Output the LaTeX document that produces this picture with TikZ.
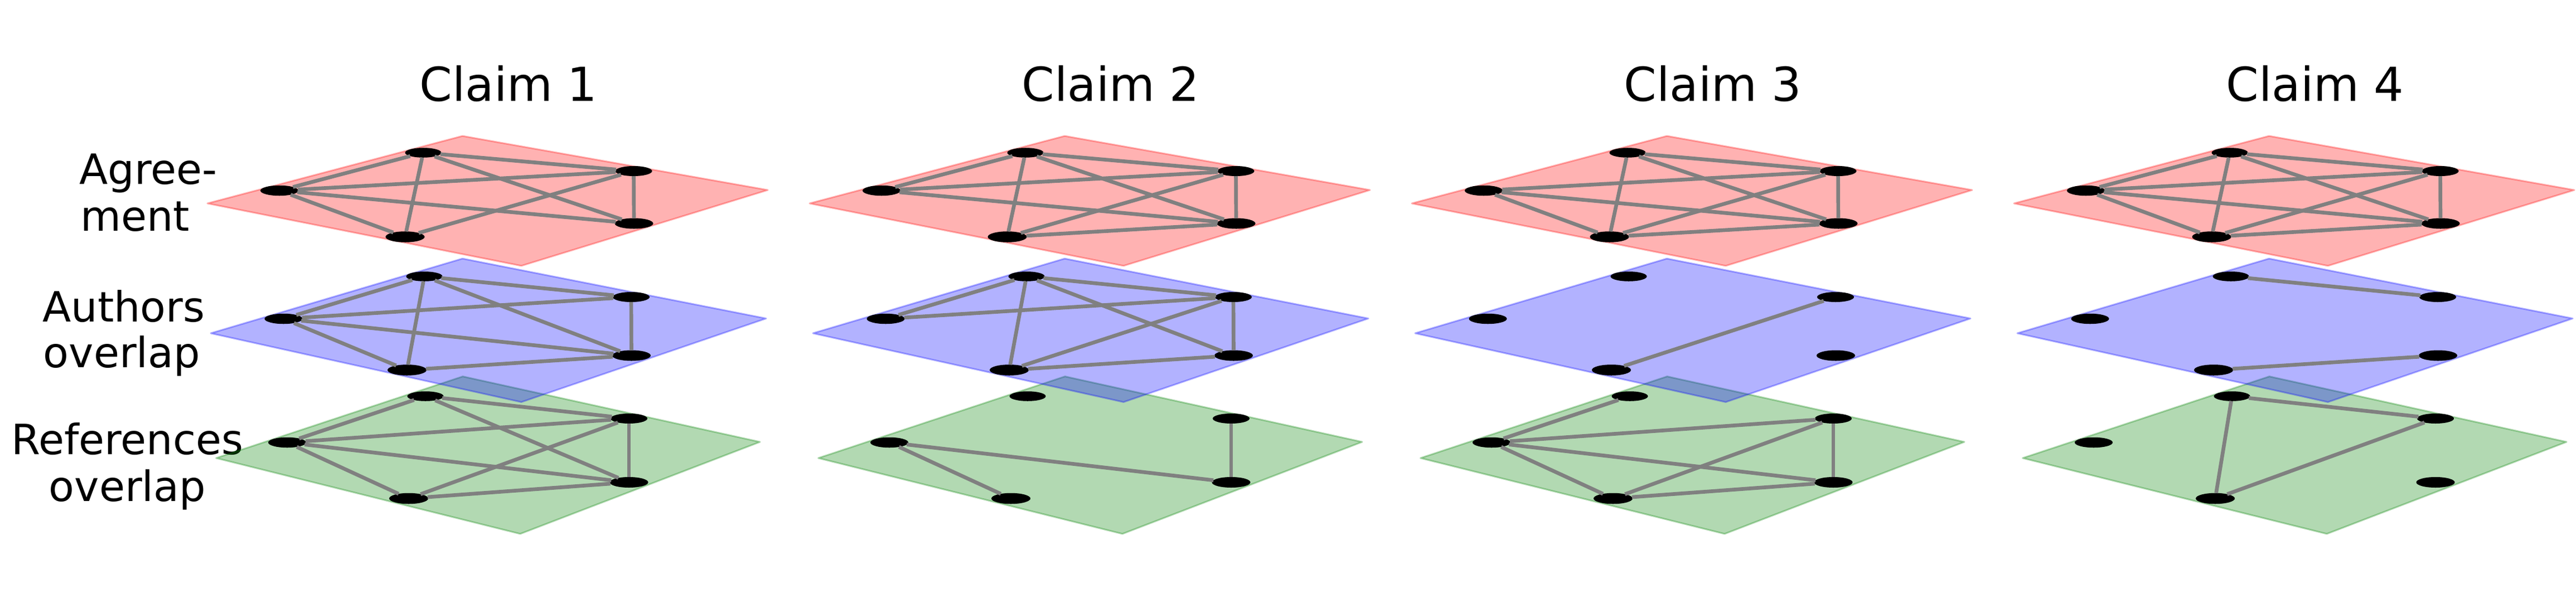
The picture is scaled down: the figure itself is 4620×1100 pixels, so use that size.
\documentclass[tikz,border=0pt]{standalone}
\usepackage{fontspec}
\setmainfont{DejaVu Sans}
\usetikzlibrary{shapes.geometric}
\tikzset{
  plane/.style={line width=0.85pt, line join=round, fill opacity=0.3, draw opacity=0.3},
  redplane/.style={plane, fill=red, draw=red},
  blueplane/.style={plane, fill=blue, draw=blue},
  greenplane/.style={plane, fill={rgb,255:red,0;green,128;blue,0}, draw={rgb,255:red,0;green,128;blue,0}},
  dotbase/.style={ellipse, fill=black, inner sep=0pt, outer sep=0pt},
  dotT/.style={dotbase, minimum width=6.5mm, minimum height=1.75mm},
  dotR/.style={dotbase, minimum width=6.6mm, minimum height=1.8mm},
  dotL/.style={dotbase, minimum width=6.8mm, minimum height=1.85mm},
  dotQ/.style={dotbase, minimum width=6.9mm, minimum height=1.9mm},
  dotB/.style={dotbase, minimum width=7.0mm, minimum height=1.95mm},
  link/.style={draw=gray, line width=1.9pt},
  claimtitle/.style={font=\fontsize{23.9}{28}\selectfont, anchor=base, inner sep=0pt},
  rowlabel/.style={font=\fontsize{21.3}{26}\selectfont, anchor=base, inner sep=0pt},
}
% #1 claim id, #2 x shift (px), #3 red edges, #4 blue edges, #5 green edges
\newcommand\drawclaim[5]{%
\begin{scope}[shift={(#2,0)}]
  % green layer
  \filldraw[greenplane] (387.6,822) -- (830,675.5) -- (1363,793) -- (933,958) -- cycle;
  \node[dotT] (c#1gT) at (763,711) {};
  \node[dotR] (c#1gR) at (1128,751) {};
  \node[dotL] (c#1gL) at (515,794) {};
  \node[dotQ] (c#1gQ) at (1128,865.5) {};
  \node[dotB] (c#1gB) at (733,894.5) {};
  \foreach \a/\b in {#5} \draw[link] (c#1g\a) -- (c#1g\b);
  % blue layer
  \filldraw[blueplane] (378,598) -- (829.5,464) -- (1374,571.5) -- (935,721.5) -- cycle;
  \node[dotT] (c#1bT) at (761,496) {};
  \node[dotR] (c#1bR) at (1132,533) {};
  \node[dotL] (c#1bL) at (508.5,572) {};
  \node[dotQ] (c#1bQ) at (1132.5,638) {};
  \node[dotB] (c#1bB) at (730,664) {};
  \foreach \a/\b in {#4} \draw[link] (c#1b\a) -- (c#1b\b);
  % red layer
  \filldraw[redplane] (372,365) -- (829.5,244) -- (1377,341) -- (935,477) -- cycle;
  \node[dotT] (c#1rT) at (759,274) {};
  \node[dotR] (c#1rR) at (1136.5,307) {};
  \node[dotL] (c#1rL) at (501,342) {};
  \node[dotQ] (c#1rQ) at (1137,401) {};
  \node[dotB] (c#1rB) at (726.5,425) {};
  \foreach \a/\b in {#3} \draw[link] (c#1r\a) -- (c#1r\b);
\end{scope}}
\begin{document}
\begin{tikzpicture}[x=0.01cm, y=-0.01cm]
  \useasboundingbox (0,0) rectangle (4620,1100);
  % row labels
  \node[rowlabel] (agA) at (266,330) {Agree-};
  \node[rowlabel] (agB) at (242,414) {ment};
  \node[rowlabel] (auA) at (222,577) {Authors};
  \node[rowlabel] (auB) at (218.5,659) {overlap};
  \node[rowlabel] (reA) at (228.5,815) {References};
  \node[rowlabel] (reB) at (228.5,899) {overlap};
  % titles
  \node[claimtitle] (t1) at (912,181) {Claim 1};
  \node[claimtitle] (t2) at (1992,181) {Claim 2};
  \node[claimtitle] (t3) at (3072,181) {Claim 3};
  \node[claimtitle] (t4) at (4152,181) {Claim 4};
  % claims
  \drawclaim{1}{0}
    {T/L,T/R,T/Q,T/B,L/R,L/Q,L/B,R/Q,R/B}
    {T/L,T/R,T/Q,T/B,L/R,L/Q,L/B,R/Q,B/Q}
    {T/L,T/R,T/Q,L/R,L/Q,L/B,R/Q,R/B,B/Q}
  \drawclaim{2}{1080}
    {T/L,T/R,T/Q,T/B,L/R,L/Q,R/Q,R/B,B/Q}
    {T/L,T/R,T/Q,T/B,L/R,R/Q,R/B,B/Q}
    {L/B,L/Q,R/Q}
  \drawclaim{3}{2160}
    {T/R,T/Q,T/B,L/R,L/Q,L/B,R/Q,R/B,B/Q}
    {R/B}
    {T/L,L/R,L/Q,L/B,R/Q,R/B,B/Q}
  \drawclaim{4}{3240}
    {T/L,T/R,T/Q,T/B,L/R,L/Q,L/B,R/Q,R/B,B/Q}
    {T/R,B/Q}
    {T/R,T/B,R/B}
\end{tikzpicture}
\end{document}
